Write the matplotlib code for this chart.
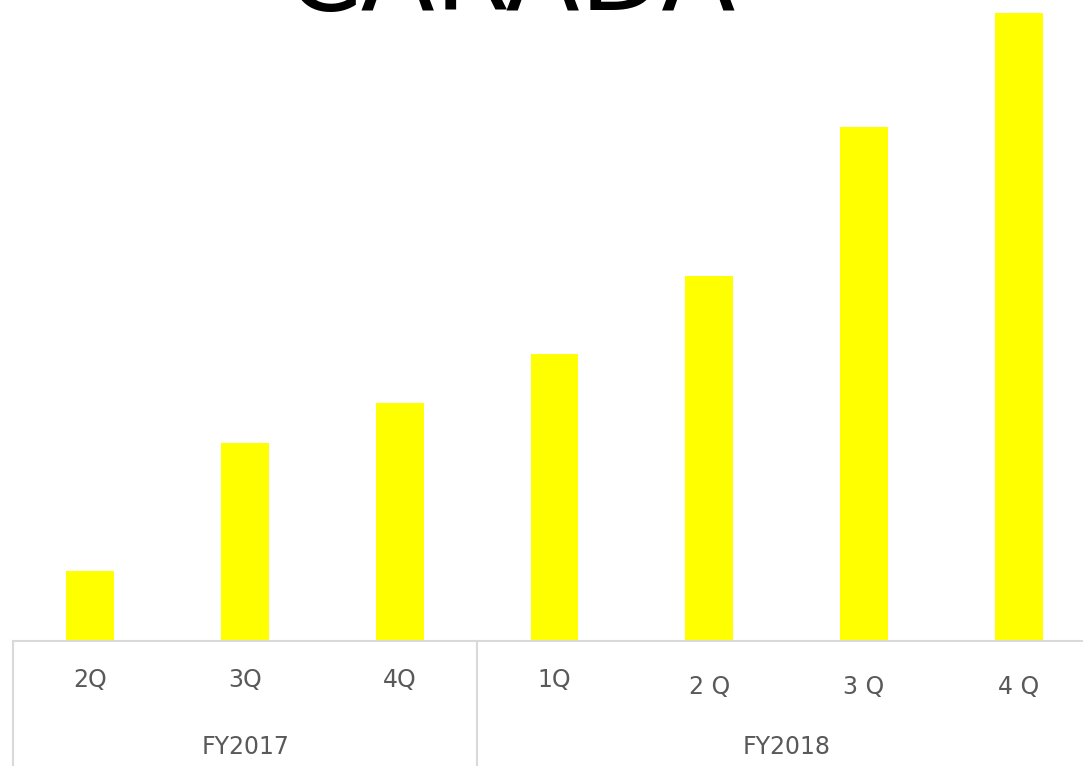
import matplotlib
matplotlib.use('Agg')
import matplotlib.pyplot as plt

# данные (высоты, условные единицы)
quarters = ['2Q', '3Q', '4Q', '1Q', '2 Q', '3 Q', '4 Q']
values = [70, 198, 238, 287, 365, 514, 628]
years = ['FY2017', 'FY2018']
year_centers = [1, 4.5]
year_bounds = [-0.5, 2.5]

fig = plt.figure(figsize=(10.83, 7.66), dpi=100)
ax = fig.add_axes([13 / 1083, 125 / 766, 1083 / 1083, 641 / 766])

x = list(range(len(values)))
ax.bar(x, values, width=0.31, color='#ffff00')
ax.set_xlim(-0.5, 6.5)
ax.set_ylim(0, 641)

for s in ['top', 'right', 'left']:
    ax.spines[s].set_visible(False)
ax.spines['bottom'].set_color('#d9d9d9')
ax.spines['bottom'].set_linewidth(1.5)
ax.set_xticks([])
ax.set_yticks([])

tr = ax.get_xaxis_transform()
for i, q in enumerate(quarters):
    yy = -0.061 if i < 4 else -0.071
    ax.text(i, yy, q, transform=tr, ha='center', va='center',
            fontsize=17, color='#595959')
for c, y in zip(year_centers, years):
    ax.text(c, -0.166, y, transform=tr, ha='center', va='center',
            fontsize=17, color='#595959')
for b in year_bounds:
    ax.plot([b, b], [0, -0.2], transform=tr, color='#d9d9d9', lw=1.5, clip_on=False)

# заголовок, обрезанный сверху (как на исходной картинке)
fig.text(511 / 1083, 1 - 10 / 766, 'CARADA', ha='center', va='baseline',
         fontsize=78, color='black')

fig.savefig('out.png', dpi=100)
